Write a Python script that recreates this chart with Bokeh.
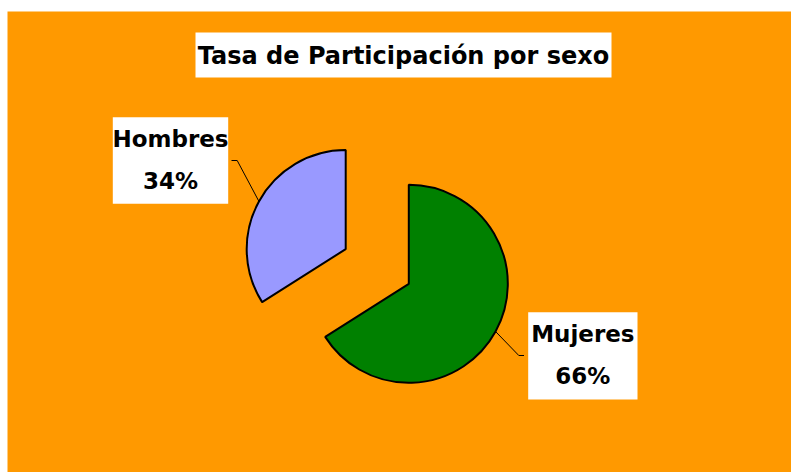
import numpy as np
from bokeh.plotting import figure
from bokeh.models import Range1d, BoxAnnotation, Label, ColumnDataSource
from bokeh.embed import file_html
from bokeh.resources import INLINE

# ---- data ----
categories = ["Mujeres", "Hombres"]
values = [66, 34]
pct_labels = ["66%", "34%"]
colors = ["#008000", "#9999FF"]
explode = [0, 72]
title_text = "Tasa de Participación por sexo"

# ---- layout ----
W, H = 791, 472
L, T = 7, 11
FONT = "DejaVu Sans"

def sx(x):
    return x - L

def sy(y):
    return H - y

p = figure(width=W, height=H, output_backend="svg", toolbar_location=None,
           x_range=Range1d(0, W - L), y_range=Range1d(0, H - T),
           x_axis_type=None, y_axis_type=None,
           min_border_left=L, min_border_top=T, min_border_right=0, min_border_bottom=0,
           border_fill_color="white", background_fill_color="#FF9900",
           outline_line_color=None)
p.grid.visible = False

cx, cy = sx(408.3), sy(283.3)
R = 99

vals = np.array(values, dtype=float)
frac = vals / vals.sum()
cum = np.concatenate([[0], np.cumsum(frac)[:-1]])
start = np.pi / 2 - cum * 2 * np.pi
end = start - frac * 2 * np.pi
mid = (start + end) / 2
xs = cx + np.array(explode) * np.cos(mid)
ys = cy + np.array(explode) * np.sin(mid)

src = ColumnDataSource(dict(x=xs, y=ys, start=start, end=end, color=colors))
p.wedge(x="x", y="y", radius=R, start_angle="start", end_angle="end",
        direction="clock", fill_color="color", line_color="black", line_width=2,
        source=src)

# leader lines and labels
elbows = {"Mujeres": [(518.3, 355), (523.5, 355)], "Hombres": [(236.7, 160), (231, 160)]}
boxes = {"Mujeres": (527.7, 637, 311.7, 399), "Hombres": (112.3, 227.7, 116.7, 203.3)}

for i, cat in enumerate(categories):
    ax = xs[i] + R * np.cos(mid[i])
    ay = ys[i] + R * np.sin(mid[i])
    e = elbows[cat]
    p.line([ax, sx(e[0][0]), sx(e[1][0])], [ay, sy(e[0][1]), sy(e[1][1])],
           line_color="black", line_width=1)
    l, r, t, b = boxes[cat]
    p.add_layout(BoxAnnotation(left=sx(l), right=sx(r), top=sy(t), bottom=sy(b),
                               fill_color="white", fill_alpha=1, line_color=None))
    xc = sx((l + r) / 2)
    p.add_layout(Label(x=xc, y=sy(t + 22), text=cat, text_align="center",
                       text_baseline="middle", text_font=FONT, text_font_style="bold",
                       text_font_size="23px", text_color="black"))
    p.add_layout(Label(x=xc, y=sy(t + 64), text=pct_labels[i], text_align="center",
                       text_baseline="middle", text_font=FONT, text_font_style="bold",
                       text_font_size="23px", text_color="black"))

# title
p.add_layout(BoxAnnotation(left=sx(195), right=sx(611), top=sy(32), bottom=sy(77),
                           fill_color="white", fill_alpha=1, line_color=None))
p.add_layout(Label(x=sx(403), y=sy(55), text=title_text, text_align="center",
                   text_baseline="middle", text_font=FONT, text_font_style="bold",
                   text_font_size="24px", text_color="black"))

open("out.html", "w").write(file_html(p, INLINE))
